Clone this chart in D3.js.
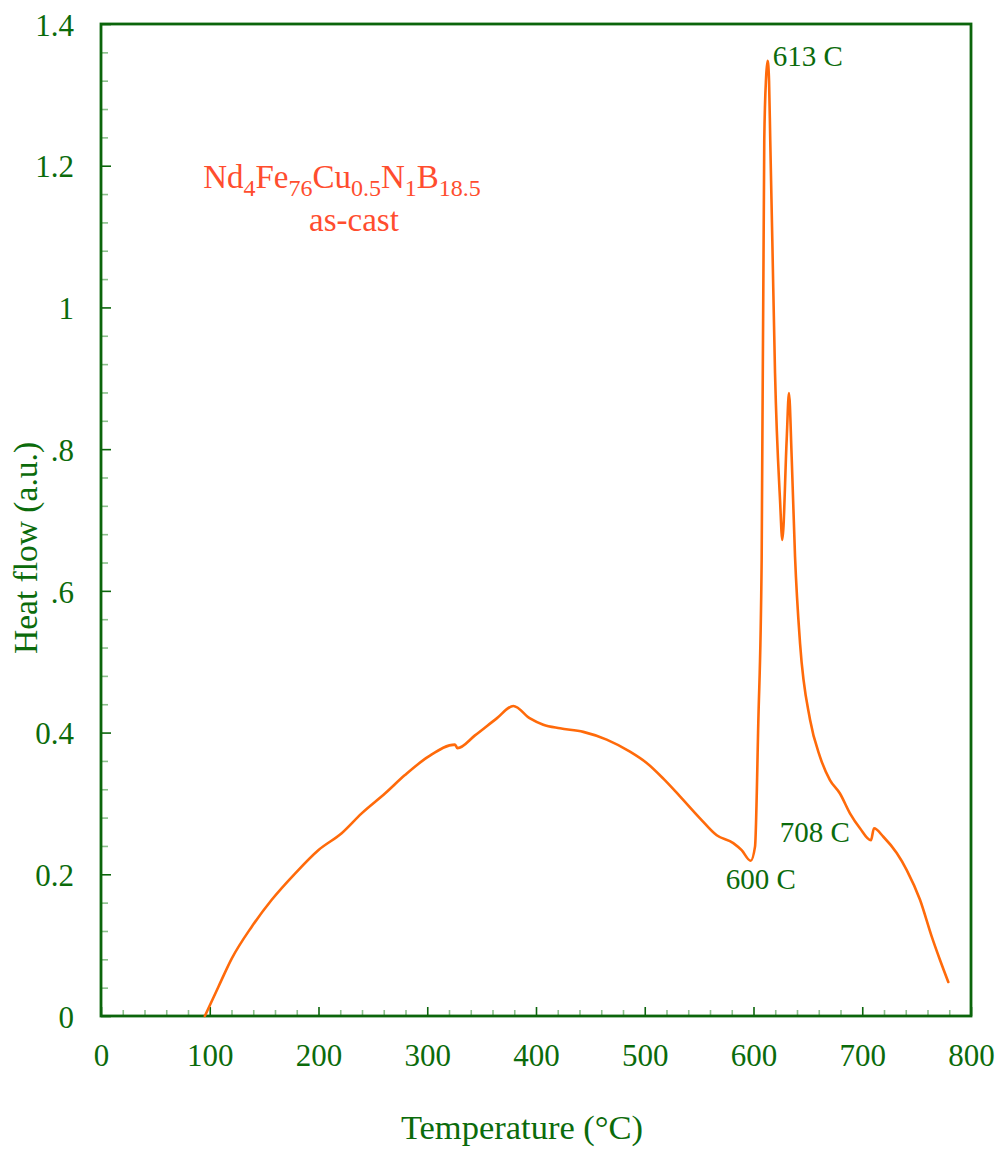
<!DOCTYPE html>
<html>
<head>
<meta charset="utf-8">
<script src="https://cdn.jsdelivr.net/npm/d3@7"></script>
<style>
  html, body { margin: 0; padding: 0; background: #ffffff; }
  svg { display: block; }
</style>
</head>
<body>
<svg id="chart" width="1002" height="1149"></svg>
<script>
// DSC scan of the as-cast ribbon: temperature (°C) vs. heat flow (a.u.)
const temperature = [
  95.5, 107.9, 120.2, 138.6, 157.0, 178.4, 199.8, 221.3, 239.7, 261.1,
  279.5, 301.0, 325.5, 327.8, 343.9, 363.9, 379.1, 394.5, 406.7, 422.1,
  443.5, 465.0, 486.4, 501.8, 517.1, 532.4, 550.8, 566.2, 581.4, 589.1,
  597.4, 601.4, 604.4, 607.5, 609.9, 611.6, 613.0, 614.3, 615.4, 617.3,
  619.8, 624.4, 626.5, 630.5, 632.6, 635.1, 638.2, 642.8, 652.0, 661.1,
  670.3, 679.5, 688.7, 697.9, 708.0, 710.8, 719.4, 731.7, 740.9, 753.1,
  763.9, 771.5, 779.1
];
const heatFlow = [
  0.000, 0.041, 0.081, 0.126, 0.164, 0.201, 0.234, 0.258, 0.286, 0.314,
  0.340, 0.366, 0.383, 0.378, 0.396, 0.420, 0.4375, 0.420, 0.411, 0.406,
  0.401, 0.390, 0.373, 0.357, 0.335, 0.310, 0.279, 0.255, 0.244, 0.234,
  0.219, 0.239, 0.413, 0.644, 1.236, 1.325, 1.348, 1.320, 1.236, 1.095,
  0.907, 0.728, 0.672, 0.813, 0.879, 0.789, 0.648, 0.526, 0.418, 0.366,
  0.333, 0.314, 0.286, 0.265, 0.248, 0.265, 0.253, 0.230, 0.206, 0.164,
  0.112, 0.079, 0.048
];

// Axis ticks
const xMajorTicks = [0, 100, 200, 300, 400, 500, 600, 700, 800];
const xTickLabels = ["0", "100", "200", "300", "400", "500", "600", "700", "800"];
const yMajorTicks = [0, 0.2, 0.4, 0.6, 0.8, 1.0, 1.2, 1.4];
const yTickLabels = ["0", "0.2", "0.4", ".6", ".8", "1", "1.2", "1.4"];

// Annotated transition temperatures
const markTemps  = [613, 597.4, 708];
const markLabels = ["613 C", "600 C", "708 C"];

const frameColor = "#0b650b";
const textColor  = "#0b6b0b";
const minorColor = "#8cc08c";
const curveColor = "#ff6a0a";
const titleColor = "#ff4d2e";
const serif = "'Liberation Serif', 'Times New Roman', Times, serif";

const svg = d3.select("#chart");
const margin = { left: 101, right: 31, top: 24, bottom: 133 };
const W = 1002, H = 1149;

const x = d3.scaleLinear().domain([0, 800]).range([margin.left, W - margin.right]);
const y = d3.scaleLinear().domain([0, 1.4]).range([H - margin.bottom, margin.top]);

// Minor ticks (every 20 °C and every 0.04 a.u.)
const xMinor = d3.range(0, 801, 20).filter(v => v % 100 !== 0);
const yMinor = d3.range(0, 71).map(i => i * 0.02).filter((v, i) => i % 2 === 0 && i % 10 !== 0);

const gxMinor = svg.append("g")
  .attr("transform", `translate(0,${y(0)})`)
  .call(d3.axisBottom(x).tickValues(xMinor).tickSize(-6).tickFormat(""));
const gyMinor = svg.append("g")
  .attr("transform", `translate(${x(0)},0)`)
  .call(d3.axisLeft(y).tickValues(yMinor).tickSize(-7).tickFormat(""));
[gxMinor, gyMinor].forEach(g => {
  g.select(".domain").remove();
  g.selectAll(".tick line").attr("stroke", minorColor).attr("stroke-width", 1.6);
});

// Major ticks with labels
const gx = svg.append("g")
  .attr("transform", `translate(0,${y(0)})`)
  .call(d3.axisBottom(x).tickValues(xMajorTicks).tickSize(-9).tickPadding(28)
    .tickFormat((d, i) => xTickLabels[i]));
const gy = svg.append("g")
  .attr("transform", `translate(${x(0)},0)`)
  .call(d3.axisLeft(y).tickValues(yMajorTicks).tickSize(-10).tickPadding(27)
    .tickFormat((d, i) => yTickLabels[i]));
[gx, gy].forEach(g => {
  g.select(".domain").remove();
  g.selectAll(".tick line").attr("stroke", frameColor).attr("stroke-width", 1.6);
  g.selectAll(".tick text")
    .attr("fill", textColor)
    .style("font-family", serif)
    .style("font-size", "31px");
});
gy.selectAll(".tick text").attr("dy", "0.36em");

// Plot frame
svg.append("rect")
  .attr("x", x(0)).attr("y", y(1.4))
  .attr("width", x(800) - x(0)).attr("height", y(0) - y(1.4))
  .attr("fill", "none")
  .attr("stroke", frameColor)
  .attr("stroke-width", 2.8);

// Heat-flow curve
const pts = temperature.map((t, i) => [t, heatFlow[i]]);
const line = d3.line()
  .x(d => x(d[0]))
  .y(d => y(d[1]))
  .curve(d3.curveMonotoneX);
svg.append("path")
  .datum(pts)
  .attr("d", line)
  .attr("fill", "none")
  .attr("stroke", curveColor)
  .attr("stroke-width", 2.6)
  .attr("stroke-linejoin", "round")
  .attr("stroke-linecap", "round");

// Transition labels
const markOffsets = [
  { dx: 5,   dy: 5,  anchor: "start" },
  { dx: -25, dy: 28, anchor: "start" },
  { dx: -21, dy: 2,  anchor: "end" }
];
markTemps.forEach((t, i) => {
  const idx = d3.minIndex(temperature, v => Math.abs(v - t));
  const o = markOffsets[i];
  svg.append("text")
    .attr("x", x(temperature[idx]) + o.dx)
    .attr("y", y(heatFlow[idx]) + o.dy)
    .attr("text-anchor", o.anchor)
    .attr("fill", textColor)
    .style("font-family", serif)
    .style("font-size", "29px")
    .text(markLabels[i]);
});

// Axis titles
svg.append("text")
  .attr("x", 522).attr("y", 1139)
  .attr("text-anchor", "middle")
  .attr("fill", textColor)
  .style("font-family", serif)
  .style("font-size", "34.5px")
  .text("Temperature (°C)");

svg.append("text")
  .attr("transform", "translate(37,548) rotate(-90)")
  .attr("text-anchor", "middle")
  .attr("fill", textColor)
  .style("font-family", serif)
  .style("font-size", "33.5px")
  .text("Heat flow (a.u.)");

// Sample composition label
const formula = [
  ["Nd", false], ["4", true], ["Fe", false], ["76", true], ["Cu", false],
  ["0.5", true], ["N", false], ["1", true], ["B", false], ["18.5", true]
];
const title = svg.append("text")
  .attr("x", 342).attr("y", 188)
  .attr("text-anchor", "middle")
  .attr("fill", titleColor)
  .style("font-family", serif)
  .style("font-size", "33px");
let sub = false;
formula.forEach(([s, isSub]) => {
  const ts = title.append("tspan").text(s);
  if (isSub && !sub) ts.attr("dy", 8).style("font-size", "24px");
  else if (isSub) ts.style("font-size", "24px");
  else if (sub) ts.attr("dy", -8);
  sub = isSub;
});

svg.append("text")
  .attr("x", 354).attr("y", 231)
  .attr("text-anchor", "middle")
  .attr("fill", titleColor)
  .style("font-family", serif)
  .style("font-size", "33px")
  .text("as-cast");
</script>
</body>
</html>
